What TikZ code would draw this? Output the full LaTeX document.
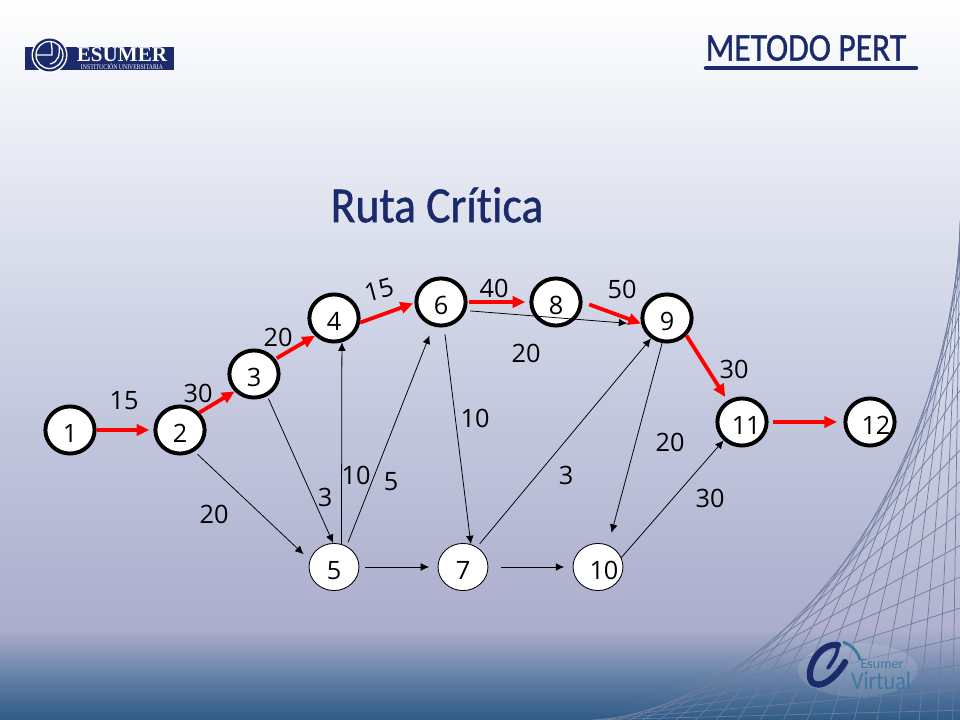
\documentclass[tikz,border=0pt]{standalone}
\usepackage{fontspec}
\setmainfont{Open Sans}
\newfontfamily\titlefont[Ligatures=NoCommon, FakeBold=1]{Carlito}
\newfontfamily\logofont{Liberation Serif}
\newfontfamily\virtfont{Carlito}
\usetikzlibrary{arrows.meta,shapes.geometric,fadings}

\definecolor{navy}{HTML}{1B2A6B}
\definecolor{netline}{HTML}{6F7C9E}
\definecolor{logoblue}{HTML}{3F789F}
% background bands
\definecolor{bga}{HTML}{FFFFFF}
\definecolor{bgb}{HTML}{F0F2F8}
\definecolor{bgc}{HTML}{CCD1E4}
\definecolor{bgd}{HTML}{ABADCC}
\definecolor{bge}{HTML}{6D86AC}
\definecolor{bgf}{HTML}{2E5B86}

\tikzset{
    crit/.style={draw=black, line width=2.8pt, fill=white, ellipse, inner sep=0pt, minimum width=35pt, minimum height=33.5pt, text height=18pt, font=\fontsize{18}{20}\selectfont},
    plain/.style={draw=black, line width=.6pt, fill=white, ellipse, inner sep=0pt, minimum width=35.5pt, minimum height=33.5pt, text height=18pt, font=\fontsize{18}{20}\selectfont},
    weight/.style={inner sep=0pt, font=\fontsize{18}{20}\selectfont},
    redarrow/.style={draw=red, line width=2.7pt, -{Triangle[length=9pt,width=8pt]}},
    thinarrow/.style={draw=black, line width=.55pt, -{Latex[length=6pt,width=5.5pt]}},
}

\begin{document}
\begin{tikzpicture}[x=.025cm, y=-.025cm]
    \useasboundingbox (0,0) rectangle (960,720);

    % slide background
    \foreach \ya/\ca/\yb/\cb in {0/bga/101/bgb, 100/bgb/341/bgc, 340/bgc/631/bgd, 630/bgd/671/bge, 670/bge/720/bgf}{
        \shade[top color=\ca, bottom color=\cb] (0,\ya) rectangle (960,\yb);
    }
    % lighter corner behind the net
    \fill[white, opacity=.3, path fading=south] (960,225) -- (950,317) -- (933,427) -- (900,493) -- (867,547) -- (820,603) -- (767,647) -- (700,680) -- (617,710) -- (617,720) -- (960,720) -- cycle;

    % net in the corner
    \foreach \a in {3,7,...,87}{
        \draw[netline, line width=.5pt] ({960-370*pow(cos(\a),1.333)},720) -- (960,{720-500*pow(sin(\a),1.333)});
    }

    % esumer logo
    \fill[navy] (25,47) rectangle (174,70);
    \fill[white] (49.5,55) circle (18);
    \fill[navy] (49.5,55) circle (16.5);
    \draw[white, line width=.9pt] (49.5,55) circle (13.5);
    \draw[white, line width=.9pt] (36,55) -- (52,55) .. controls (52,50) and (52,46) .. (51,42);
    \draw[white, line width=.9pt] (59,45) .. controls (60,54) and (59,62) .. (50,64);
    \node (esumer) at (122,55) [text=white, inner sep=0pt] {\logofont\bfseries\fontsize{15}{15}\selectfont ESUMER};
    \node (instit) at (122,66.5) [text=white, inner sep=0pt, xscale=.82] {\logofont\fontsize{5}{6}\selectfont INSTITUCIÓN UNIVERSITARIA};

    % headings
    \node (pert) at (806,48) [text=navy, inner sep=0pt, xscale=.85] {\titlefont\fontsize{28}{30}\selectfont METODO PERT};
    \coordinate (ula) at (706,68);
    \coordinate (ulb) at (916,68);
    \draw[navy, line width=3.2pt, line cap=round] (ula) -- (ulb);
    \node (ruta) at (437,205) [text=navy, inner sep=0pt, xscale=.9] {\titlefont\fontsize{36}{40}\selectfont Ruta Crítica};

    % virtual logo
    \fill[white, opacity=.12] (858,670) ellipse (60 and 27);
    \draw[navy, line width=4.4pt, line cap=round] (838,645) .. controls (815,642) and (802,680) .. (815,684) .. controls (825,688) and (840,672) .. (845,662);
    \draw[navy, line width=2.6pt, line cap=round] (838,645) .. controls (838,655) and (832,662) .. (828,668);
    \draw[logoblue, line width=2pt] (843,642) .. controls (852,645) and (858,652) .. (860,660);
    \node (esum) at (882,664) [text=logoblue, inner sep=0pt] {\virtfont\fontsize{10}{12}\selectfont Esumer};
    \node (virt) at (881,681) [text=logoblue, inner sep=0pt, xscale=.87] {\virtfont\fontsize{18}{20}\selectfont Virtual};

    % nodes on the critical path
    \node[crit] (n1) at (70,430) {1};
    \node[crit] (n2) at (180,430) {2};
    \node[crit] (n3) at (254,374) {3};
    \node[crit] (n4) at (334,318) {4};
    \node[crit] (n6) at (441,302) {6};
    \node[crit] (n8) at (556,302) {8};
    \node[crit] (n9) at (667,318) {9};
    \node[crit] (n11) at (742,422) {\makebox[0pt]{\hspace{6pt}11}};
    \node[crit] (n12) at (870,422) {\makebox[0pt]{\hspace{8.5pt}12}};
    % other nodes
    \node[plain] (n5) at (334,567) {5};
    \node[plain] (n7) at (463,567) {7};
    \node[plain] (n10) at (598,567) {\makebox[0pt]{\hspace{8.5pt}10}};

    % critical path
    \draw[redarrow, shorten >=3pt] (n1.east) -- (n2.west);
    \draw[redarrow] (n2.42) -- (n3.222);
    \draw[redarrow, shorten <=1pt] (n3.35) -- (n4.223);
    \draw[redarrow, shorten >=1pt] (n4.350) -- (n6.182);
    \draw[redarrow, shorten <=1pt, shorten >=3pt] (n6.east) -- (n8.west);
    \draw[redarrow, shorten <=5pt] (n8.east) -- (n9.192);
    \draw[redarrow, shorten >=3pt] (n9.318) -- (n11.124);
    \draw[redarrow, shorten <=3pt, shorten >=4.5pt] (n11.east) -- (n12.west);
    % remaining activities
    \draw[thinarrow, shorten <=3pt, shorten >=6pt] (n2.304) -- (n5.164);
    \draw[thinarrow, shorten <=2pt] (n3.301) -- (n5.92);
    \draw[thinarrow] (n5.72) -- (n4.288);
    \draw[thinarrow, shorten <=3pt, shorten >=7pt] (n5.59) -- (n6.252);
    \draw[thinarrow, shorten <=5pt] (n6.277) -- (n7.71);
    \draw[thinarrow, shorten <=3pt, shorten >=10pt] (n6.341) -- (n9.194);
    \draw[thinarrow, shorten <=4pt, shorten >=6pt] (n5.east) -- (n7.west);
    \draw[thinarrow, shorten <=9pt, shorten >=6pt] (n7.east) -- (n10.west);
    \draw[thinarrow, shorten <=3pt] (n7.55) -- (n9.232);
    \draw[thinarrow, shorten >=9pt] (n9.259) -- (n10.65);
    \draw[thinarrow] (n10.22) -- (n11.225);

    % weights
    \node[weight] (w12) at (124,401) {15};
    \node[weight] (w23) at (198,393) {30};
    \node[weight] (w34) at (278,337) {20};
    \node[weight, rotate=15] (w46) at (379,290) {15};
    \node[weight] (w68) at (494,288) {40};
    \node[weight] (w89) at (622,289) {50};
    \node[weight] (w69) at (526,353) {20};
    \node[weight] (w911) at (734,369) {30};
    \node[weight] (w67) at (475,418) {10};
    \node[weight] (w910) at (670,442) {20};
    \node[weight] (w79) at (566,475) {3};
    \node[weight] (w1011) at (710,498) {30};
    \node[weight] (w56) at (391,482) {5};
    \node[weight] (w54) at (356,475) {10};
    \node[weight] (w35) at (325,497) {3};
    \node[weight] (w25) at (214,514) {20};
\end{tikzpicture}
\end{document}
